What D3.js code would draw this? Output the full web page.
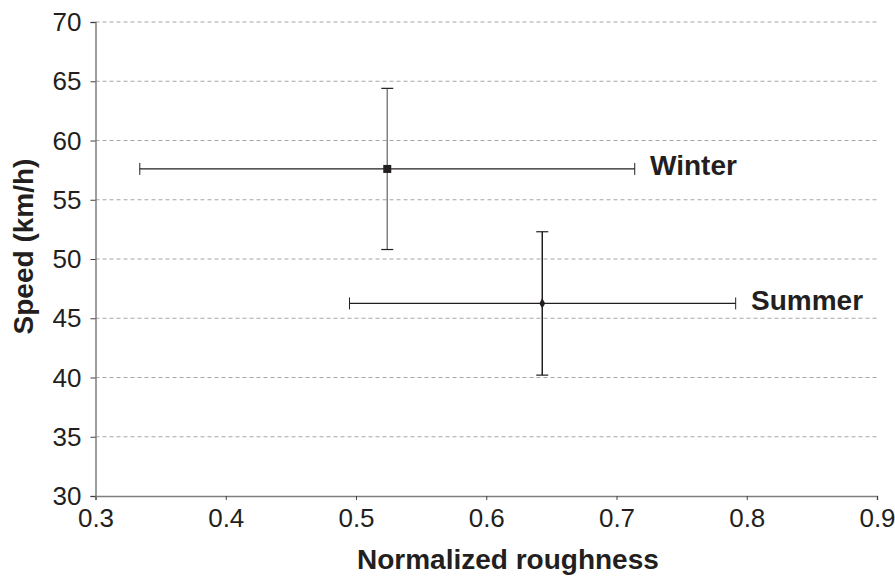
<!DOCTYPE html>
<html>
<head>
<meta charset="utf-8">
<script src="https://cdn.jsdelivr.net/npm/d3@7"></script>
<style>
  body { margin: 0; background: #fff; }
  svg { display: block; font-family: Arial, "Liberation Sans", sans-serif; }
</style>
</head>
<body>
<div id="container"></div>
<script>
/* DATA */
var seasons = ['Winter', 'Summer']
var roughness = [0.524, 0.643]
var roughnessLow = [0.334, 0.495]
var roughnessHigh = [0.714, 0.7915]
var speed = [57.6, 46.25]
var speedLow = [50.8, 40.2]
var speedHigh = [64.4, 52.3]
var xTicks = [0.3, 0.4, 0.5, 0.6, 0.7, 0.8, 0.9]
var yTicks = [30, 35, 40, 45, 50, 55, 60, 65, 70]

/* SET UP */
var width = 895, height = 578
var margin = { left: 95.5, right: 18, top: 22, bottom: 82 }

var svg = d3.select('#container')
  .append('svg')
  .attr('width', width)
  .attr('height', height)

var x = d3.scaleLinear().domain([0.3, 0.9]).range([margin.left, width - margin.right])
var y = d3.scaleLinear().domain([30, 70]).range([height - margin.bottom, margin.top])

// dashed gridlines
svg.append('g')
  .selectAll('line')
  .data(yTicks.slice(1))
  .enter()
  .append('line')
  .attr('x1', x(0.3))
  .attr('x2', x(0.9))
  .attr('y1', function(d) { return y(d) })
  .attr('y2', function(d) { return y(d) })
  .style('stroke', '#a6a6a6')
  .style('stroke-width', 1)
  .style('stroke-dasharray', '4,3')

// axes
var xAxis = svg.append('g')
  .attr('transform', 'translate(0,' + y(30) + ')')
  .call(d3.axisBottom(x).tickValues(xTicks).tickSize(4).tickPadding(8.5).tickFormat(d3.format('.1f')))
var yAxis = svg.append('g')
  .attr('transform', 'translate(' + x(0.3) + ',0)')
  .call(d3.axisLeft(y).tickValues(yTicks).tickSize(5).tickPadding(9))

;[xAxis, yAxis].forEach(function(a) {
  a.select('.domain').style('stroke', '#7f7f7f').style('stroke-width', 1.5)
  a.selectAll('.tick line').style('stroke', '#404040')
  a.selectAll('.tick text').style('font-size', '26px').style('fill', '#231f20')
    .style('font-family', 'Arial, "Liberation Sans", sans-serif')
})
yAxis.selectAll('.tick text').attr('dy', '0.33em')

// axis titles
svg.append('text')
  .attr('x', 357)
  .attr('y', 569)
  .attr('text-anchor', 'start')
  .style('font-size', '28px')
  .style('font-weight', 'bold')
  .style('fill', '#231f20')
  .text('Normalized roughness')

svg.append('text')
  .attr('transform', 'translate(33,' + 246.5 + ') rotate(-90)')
  .attr('text-anchor', 'middle')
  .style('font-size', '28px')
  .style('font-weight', 'bold')
  .style('fill', '#231f20')
  .text('Speed (km/h)')

// error bars
var vColor = ['#7f7f7f', '#231f20']
var cap = 6
var g = svg.append('g')
seasons.forEach(function(s, i) {
  var cx = x(roughness[i]), cy = y(speed[i])
  // horizontal
  g.append('line').attr('x1', x(roughnessLow[i])).attr('x2', x(roughnessHigh[i]))
    .attr('y1', cy).attr('y2', cy).style('stroke', '#231f20').style('stroke-width', 1.3)
  ;[roughnessLow[i], roughnessHigh[i]].forEach(function(v) {
    g.append('line').attr('x1', x(v)).attr('x2', x(v))
      .attr('y1', cy - cap).attr('y2', cy + cap).style('stroke', '#231f20').style('stroke-width', 1)
  })
  // vertical
  g.append('line').attr('x1', cx).attr('x2', cx)
    .attr('y1', y(speedLow[i])).attr('y2', y(speedHigh[i])).style('stroke', vColor[i]).style('stroke-width', 1.5)
  ;[speedLow[i], speedHigh[i]].forEach(function(v) {
    g.append('line').attr('x1', cx - cap).attr('x2', cx + cap)
      .attr('y1', y(v)).attr('y2', y(v)).style('stroke', '#231f20').style('stroke-width', 1.2)
  })
})

// markers
g.append('rect')
  .attr('x', x(roughness[0]) - 4).attr('y', y(speed[0]) - 4)
  .attr('width', 8).attr('height', 8)
  .style('fill', '#231f20')
g.append('path')
  .attr('d', d3.symbol().type(d3.symbolDiamond).size(30))
  .attr('transform', 'translate(' + x(roughness[1]) + ',' + y(speed[1]) + ')')
  .style('fill', '#231f20')

// labels
var labelX = [650, 751]
svg.selectAll('.lbl')
  .data(seasons)
  .enter()
  .append('text')
  .attr('class', 'lbl')
  .attr('x', function(d, i) { return labelX[i] })
  .attr('y', function(d, i) { return y(speed[i]) + 6.5 })
  .style('font-size', '28px')
  .style('font-weight', 'bold')
  .style('fill', '#231f20')
  .text(function(d) { return d })
</script>
</body>
</html>
